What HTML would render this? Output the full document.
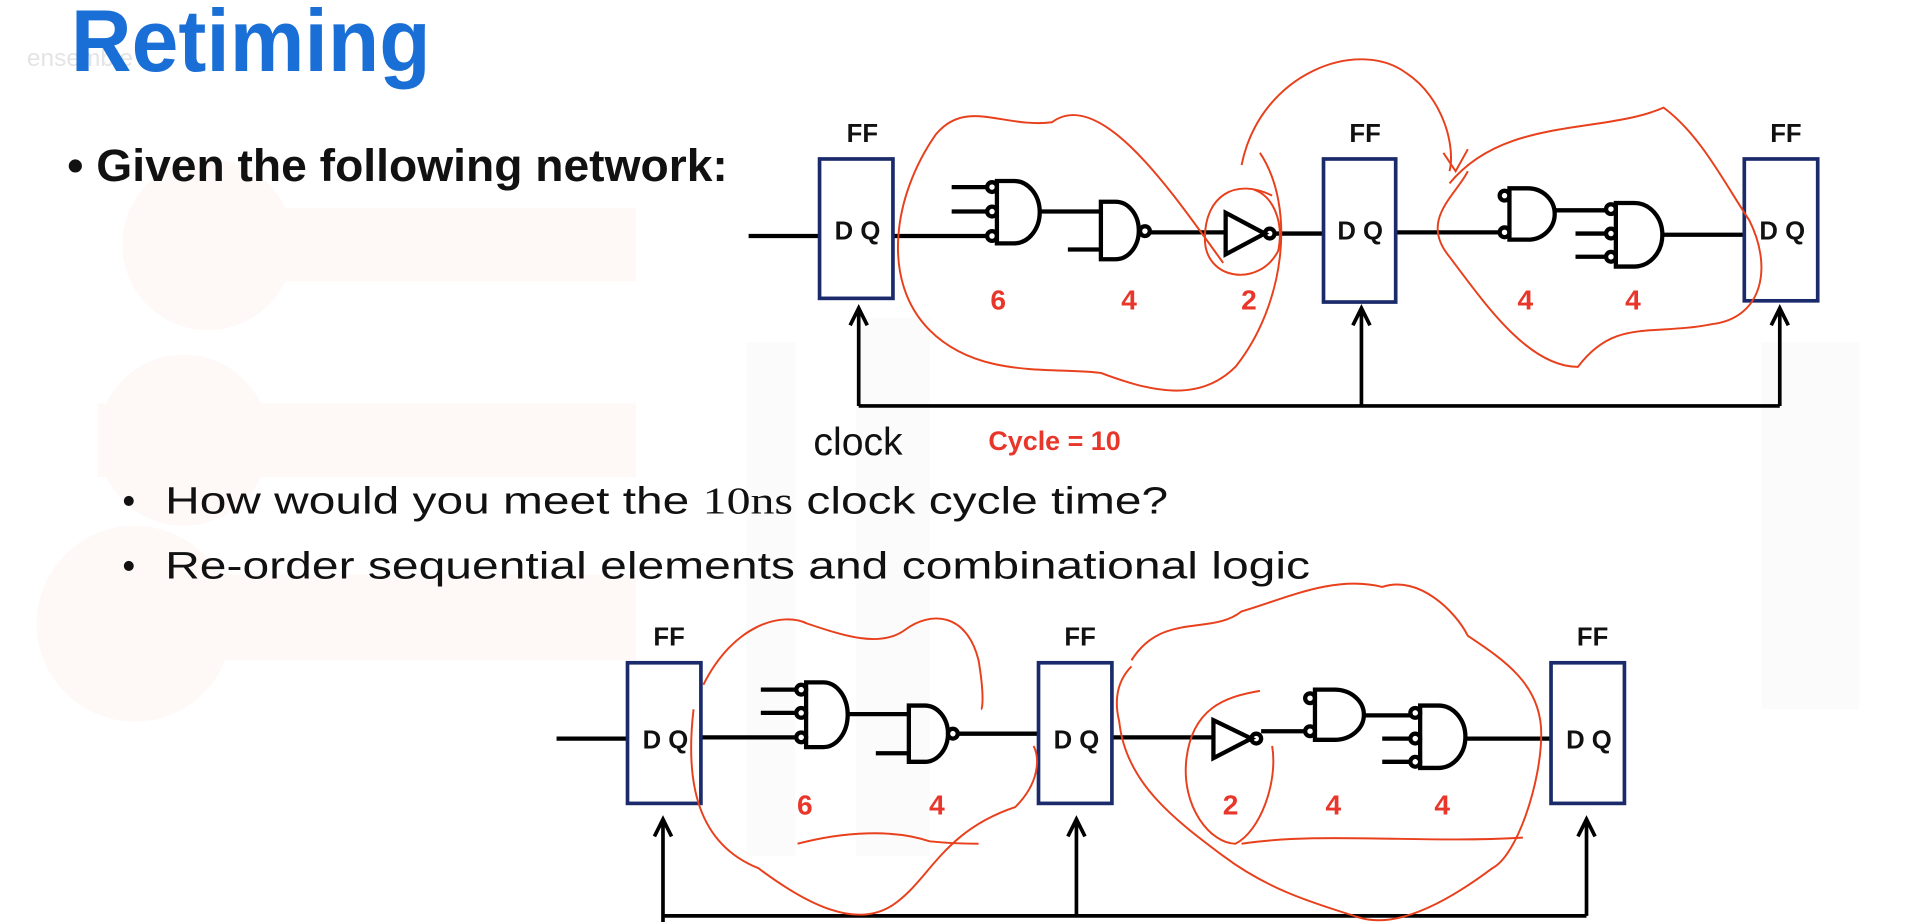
<!DOCTYPE html>
<html><head><meta charset="utf-8"><style>
html,body{margin:0;padding:0;background:#fff;overflow:hidden}
svg{display:block}
text{font-family:"Liberation Sans",Arial,sans-serif}
</style></head><body>
<svg width="1918" height="922" viewBox="0 0 1568 754" preserveAspectRatio="none" xmlns="http://www.w3.org/2000/svg">
<rect width="1568" height="754" fill="#fff"/>
<!-- faint watermark -->
<g fill="#fef8f6">
<rect x="120" y="170" width="400" height="60"/>
<rect x="80" y="330" width="440" height="60"/>
<rect x="40" y="470" width="480" height="70"/>
<circle cx="170" cy="200" r="70"/><circle cx="150" cy="360" r="70"/><circle cx="110" cy="510" r="80"/>
</g>
<g fill="#fbfbfb"><rect x="610" y="280" width="40" height="420"/><rect x="700" y="260" width="60" height="440"/><rect x="1440" y="280" width="80" height="300"/></g>

<text x="22" y="54" font-size="20" fill="#e4e4e4">ensemble</text>
<text x="58" y="58" font-size="72" font-weight="bold" fill="#1a6fd6" textLength="294" lengthAdjust="spacingAndGlyphs">Retiming</text>

<text x="55" y="148" font-size="37" font-weight="bold" fill="#111" textLength="540" lengthAdjust="spacingAndGlyphs">• Given the following network:</text>
<text x="100" y="420" font-size="30" fill="#111">•</text>
<text x="135" y="420" font-size="31" fill="#111" textLength="820" lengthAdjust="spacingAndGlyphs">How would you meet the <tspan font-family="Liberation Serif">10ns</tspan> clock cycle time?</text>
<text x="100" y="473" font-size="30" fill="#111">•</text>
<text x="135" y="473" font-size="31" fill="#111" textLength="936" lengthAdjust="spacingAndGlyphs">Re-order sequential elements and combinational logic</text>

<g stroke="#000" stroke-width="3.5" fill="none">
<!-- top diagram -->
<path d="M612,193H670 M730,193H807 M778,153H807 M778,173H807 M850,173H900 M873,204H900 M940,190H1002 M1042,191H1082 M1141,190H1226 M1271,172H1313 M1288,191H1313 M1288,210H1313 M1359,192H1426"/>
<path d="M815,148H829A21,25.5 0 0 1 829,199H815Z"/>
<path d="M900,165H912A19,23.5 0 0 1 912,212H900Z"/>
<path d="M1002,174L1034,191L1002,208Z"/>
<path d="M1234,154H1249A22,21 0 0 1 1249,196H1234Z"/>
<path d="M1321,166H1336A23,26 0 0 1 1336,218H1321Z"/>
<circle cx="811" cy="153" r="4"/><circle cx="811" cy="173" r="4"/><circle cx="811" cy="193" r="4"/>
<circle cx="936" cy="189" r="4"/><circle cx="1038" cy="191" r="4"/>
<circle cx="1230" cy="160" r="4"/><circle cx="1230" cy="190" r="4"/>
<circle cx="1317" cy="171" r="4"/><circle cx="1317" cy="191" r="4"/><circle cx="1317" cy="210" r="4"/>
<path d="M702,332H1455 M702,332V252 M1113,332V252 M1455,332V252 M695,266L702,252L709,266 M1106,266L1113,252L1120,266 M1448,266L1455,252L1462,266" stroke-width="3"/>
<!-- bottom diagram -->
<path d="M455,604H513 M573,603H651 M622,564H651 M622,583H651 M693,584H743 M716,616H743 M783,600H849 M909,603H992 M1031,598H1067 M1115,585H1153 M1130,604H1153 M1130,623H1153 M1198,604H1268"/>
<path d="M659,558H673A20,26.5 0 0 1 673,611H659Z"/>
<path d="M743,577H756A19,23 0 0 1 756,623H743Z"/>
<path d="M992,589L1023,604L992,620Z"/>
<path d="M1075,564H1091A24,20.5 0 0 1 1091,605H1075Z"/>
<path d="M1161,577H1176A22,25.5 0 0 1 1176,628H1161Z"/>
<circle cx="655" cy="564" r="4"/><circle cx="655" cy="583" r="4"/><circle cx="655" cy="603" r="4"/>
<circle cx="779" cy="600" r="4"/><circle cx="1027" cy="604" r="4"/>
<circle cx="1071" cy="571" r="4"/><circle cx="1071" cy="598" r="4"/>
<circle cx="1157" cy="583" r="4"/><circle cx="1157" cy="604" r="4"/><circle cx="1157" cy="623" r="4"/>
<path d="M542,749H1297 M542,754V670 M880,749V670 M1297,749V670 M535,684L542,670L549,684 M873,684L880,670L887,684 M1290,684L1297,670L1304,684" stroke-width="3"/>
</g>
<g fill="#fff" stroke="#1b2a6b" stroke-width="3">
<rect x="670" y="130" width="60" height="114"/><rect x="1082" y="130" width="59" height="117"/><rect x="1426" y="130" width="60" height="116"/>
<rect x="513" y="542" width="60" height="115"/><rect x="849" y="542" width="60" height="115"/><rect x="1268" y="542" width="60" height="115"/>
</g>
<g font-size="21" font-weight="bold" fill="#111" text-anchor="middle">
<text x="705" y="116">FF</text><text x="1116" y="116">FF</text><text x="1460" y="116">FF</text>
<text x="547" y="528">FF</text><text x="883" y="528">FF</text><text x="1302" y="528">FF</text>
<text x="701" y="196">D Q</text><text x="1112" y="196">D Q</text><text x="1457" y="196">D Q</text>
<text x="544" y="612">D Q</text><text x="880" y="612">D Q</text><text x="1299" y="612">D Q</text>
</g>
<g font-size="23" font-weight="bold" fill="#e8372a" text-anchor="middle">
<text x="816" y="253">6</text><text x="923" y="253">4</text><text x="1021" y="253">2</text><text x="1247" y="253">4</text><text x="1335" y="253">4</text>
<text x="658" y="666">6</text><text x="766" y="666">4</text><text x="1006" y="666">2</text><text x="1090" y="666">4</text><text x="1179" y="666">4</text>
</g>
<text x="665" y="372" font-size="32" fill="#111">clock</text>
<text x="808" y="368" font-size="22" font-weight="bold" fill="#e8372a">Cycle = 10</text>

<!-- red annotations -->
<g fill="none" stroke="#e8401c" stroke-width="1.6">
<path d="M1000,215 C960,160 900,70 860,100 C820,105 790,80 765,110 C730,160 720,230 760,270 C800,310 860,300 900,305 C940,320 980,330 1010,300 C1050,250 1060,170 1030,125"/>
<path d="M1015,135 C1030,60 1110,30 1150,60 C1180,80 1190,120 1185,140"/>
<path d="M1180,125 L1190,140 L1200,122"/>
<path d="M1040,160 C1010,145 985,160 985,195 C985,230 1030,235 1045,205 C1050,180 1040,160 1025,155"/>
<path d="M1185,150 C1230,95 1310,110 1360,88 C1390,110 1410,150 1430,180 C1450,220 1440,260 1400,265 C1350,275 1320,260 1290,300 C1250,300 1215,250 1185,210 C1160,180 1190,160 1200,140"/>
<path d="M575,560 C600,510 640,500 660,510 C690,520 720,530 740,515 C760,500 790,500 800,540 C805,570 803,580 802,580"/>
<path d="M567,580 C560,640 570,690 620,710 C660,740 700,760 730,740 C760,720 770,680 830,660 C850,640 850,620 845,610"/>
<path d="M652,690 C690,680 730,678 760,688 C780,690 795,690 800,690"/>
<path d="M1030,565 C1000,570 975,580 970,620 C965,660 990,690 1010,690 C1030,680 1045,640 1040,610"/>
<path d="M925,540 C950,500 990,520 1015,500 C1050,490 1090,470 1130,480 C1160,470 1190,500 1200,520 C1230,540 1260,560 1260,600 C1260,640 1240,700 1220,710 C1180,740 1140,760 1110,750 C1080,740 1040,730 1000,700 C960,670 920,640 915,590 C910,570 915,555 925,545"/>
<path d="M1015,690 C1080,680 1160,690 1245,685"/>
</g>
</svg>
</body></html>
